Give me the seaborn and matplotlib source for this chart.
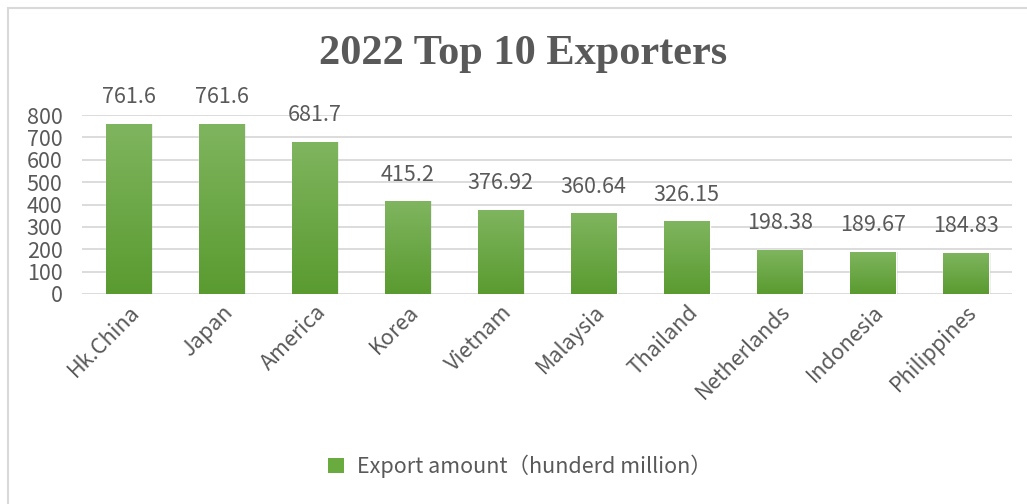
import numpy as np
import pandas as pd
import matplotlib
matplotlib.use("Agg")
import matplotlib.pyplot as plt
from matplotlib.patches import Rectangle, Patch
from matplotlib.colors import LinearSegmentedColormap
import seaborn as sns

countries = ["Hk.China", "Japan", "America", "Korea", "Vietnam",
             "Malaysia", "Thailand", "Netherlands", "Indonesia", "Philippines"]
amounts = [761.6, 761.6, 681.7, 415.2, 376.92, 360.64, 326.15, 198.38, 189.67, 184.83]
amount_labels = ["761.6", "761.6", "681.7", "415.2", "376.92",
                 "360.64", "326.15", "198.38", "189.67", "184.83"]
y_ticks = [0, 100, 200, 300, 400, 500, 600, 700, 800]
title = "2022 Top 10 Exporters"
legend_label = "Export amount（hunderd million）"

sns.set_theme(style="white")
plt.rcParams["font.family"] = ["Noto Sans CJK SC", "DejaVu Sans"]

TEXT = "#595959"
GRID = "#d9d9d9"
GREEN = "#6aab3f"
FS = 15.5

df = pd.DataFrame({"country": countries, "amount": amounts})

fig = plt.figure(figsize=(10.27, 5.04), dpi=100)
ax = fig.add_axes([0.0798, 0.4167, 0.906, 0.355])

sns.barplot(data=df, x="country", y="amount", color=GREEN, width=0.49,
            saturation=1, ax=ax, zorder=3)

ax.set_yticks(y_ticks)
ax.yaxis.grid(True, color=GRID, linewidth=1.3, zorder=0)
ax.set_axisbelow(True)
for s in ax.spines.values():
    s.set_visible(False)
ax.set_xlabel("")
ax.set_ylabel("")
ax.tick_params(axis="y", labelsize=FS, labelcolor=TEXT, length=0, pad=14)
ax.tick_params(axis="x", labelsize=FS, labelcolor=TEXT, length=0, pad=5)
for lbl in ax.get_xticklabels():
    lbl.set_rotation(45)
    lbl.set_ha("right")
    lbl.set_va("top")
    lbl.set_rotation_mode("anchor")

# vertical gradient fill on each bar, light at top, darker at bottom
grad_cmap = LinearSegmentedColormap.from_list("bar", ["#5a9b30", "#7fb55f"])
grad = np.linspace(0, 1, 256).reshape(-1, 1)
for bar, lab in zip(ax.patches, amount_labels):
    x0, w, h = bar.get_x(), bar.get_width(), bar.get_height()
    # soft shadow behind the bar
    ax.add_patch(Rectangle((x0 + 0.02, 0), w, h, color="#000000", alpha=0.08,
                           zorder=2, linewidth=0))
    im = ax.imshow(grad, cmap=grad_cmap, origin="lower", aspect="auto",
                   extent=(x0, x0 + w, 0, h), zorder=3.5)
    im.set_clip_path(bar)
    ax.annotate(lab, (x0 + w / 2, h), xytext=(0, 19), textcoords="offset points",
                ha="center", va="center", fontsize=FS, color=TEXT,
                annotation_clip=False)
ax.set_xlim(-0.5, len(countries) - 0.5)
ax.set_ylim(0, 800)

fig.text(0.509, 0.893, title, ha="center", va="center", fontsize=30.5,
         fontweight="bold", color=TEXT, family=["Liberation Serif"])

handle = Patch(facecolor=GREEN, edgecolor="none")
fig.legend([handle], [legend_label], loc="center", bbox_to_anchor=(0.506, 0.075),
           frameon=False, prop={"size": FS}, labelcolor=TEXT,
           handlelength=0.75, handleheight=0.75, handletextpad=0.6)

# chart frame
fig.add_artist(Rectangle((8 / 1027, -0.1), 1.2, 1 - 8 / 504 + 0.1,
                         transform=fig.transFigure, fill=False,
                         edgecolor="#d9d9d9", linewidth=1.5))

fig.savefig("out.png", dpi=100, facecolor="white")
